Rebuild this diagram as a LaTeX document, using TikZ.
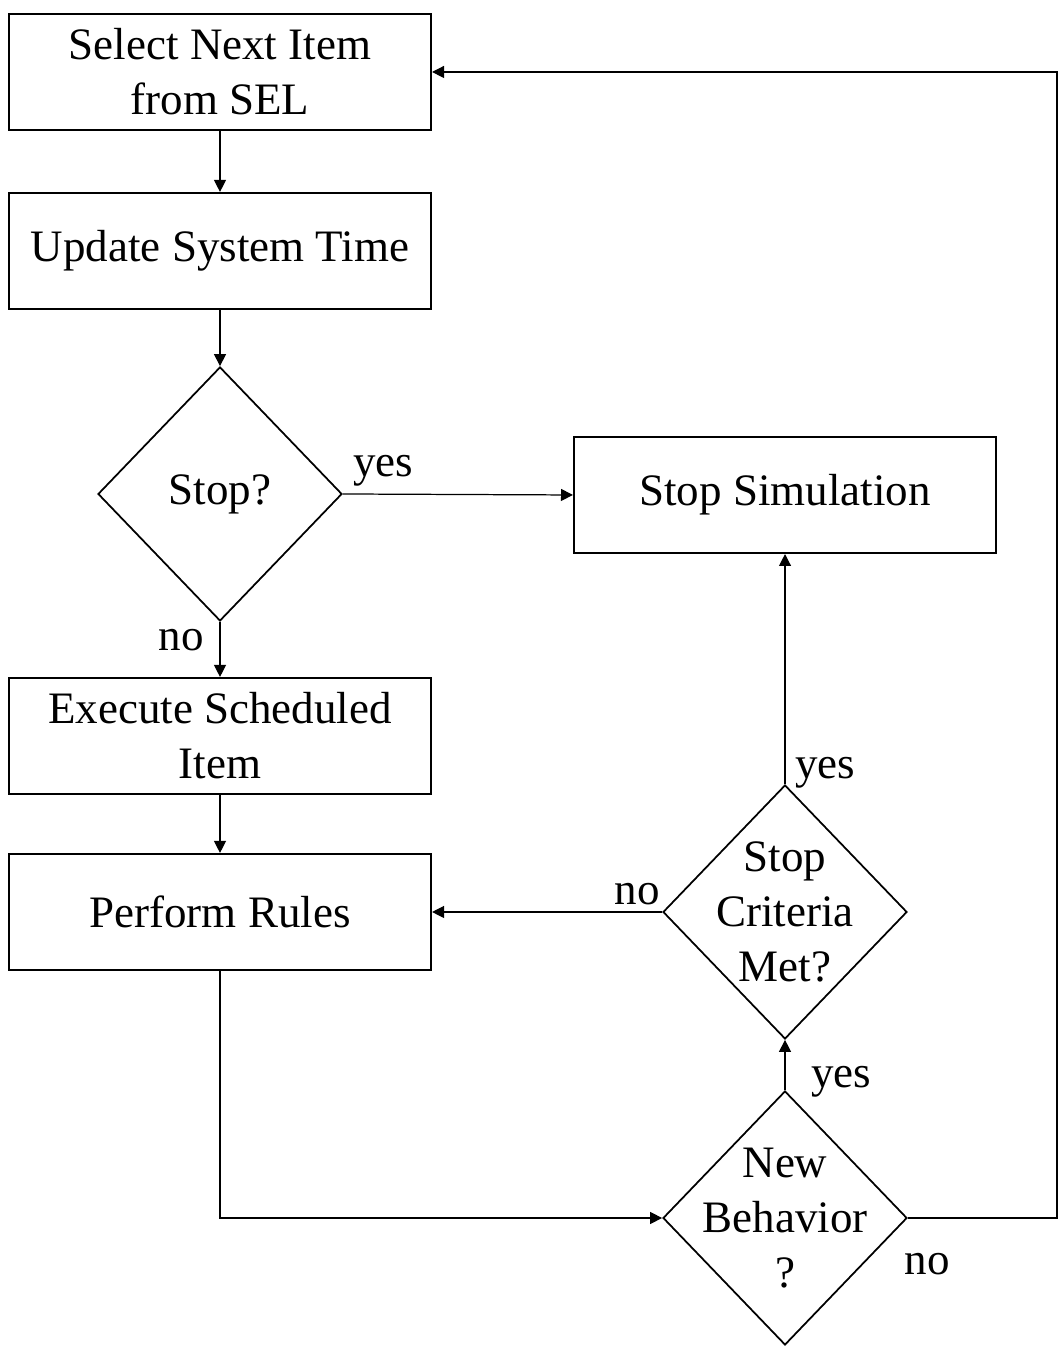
\documentclass[tikz,border=0pt]{standalone}
\usepackage{fontspec}
\setmainfont{Liberation Serif}
\usetikzlibrary{shapes.geometric,arrows.meta}
\begin{document}
\begin{tikzpicture}[
    font=\fontsize{12.8}{15.6}\selectfont,
    box/.style={draw, line width=0.6pt, minimum width=4.22cm, minimum height=1.16cm, align=center, inner sep=0pt},
    decision/.style={draw, diamond, line width=0.5pt, minimum width=2.44cm, minimum height=2.54cm, inner sep=-1cm, align=center},
    arr/.style={line width=0.35pt, -{Triangle[length=3.4pt,width=3.4pt]}}
  ]
  \useasboundingbox (0,0) rectangle (10.58,13.49);
  \node[box] (sel) at (2.20,12.77) {Select Next Item\\from SEL};
  \node[box] (upd) at (2.20,10.98) {Update System Time};
  \node[decision] (stop) at (2.20,8.55) {Stop?};
  \node[box] (halt) at (7.85,8.54) {Stop Simulation};
  \node[box] (exec) at (2.20,6.13) {Execute Scheduled\\Item};
  \node[box] (rules) at (2.20,4.37) {Perform Rules};
  \node[decision] (crit) at (7.85,4.37) {Stop\\Criteria\\Met?};
  \node[decision] (newb) at (7.85,1.31) {New\\Behavior\\?};
  \coordinate (back) at (10.57,1.31);
  % yes / no
  \node (yes1) at (3.83,8.78) {yes};
  \node (no1) at (1.81,7.09) {no};
  \node (yes2) at (8.25,5.76) {yes};
  \node (no2) at (6.37,4.55) {no};
  \node (yes3) at (8.41,2.67) {yes};
  \node (no3) at (9.27,0.85) {no};
  % connectors
  \draw[arr] (sel) -- (upd);
  \draw[arr] (upd) -- (stop);
  \draw[arr] (stop.east) -- (halt.west);
  \draw[arr] (stop) -- (exec);
  \draw[arr] (exec) -- (rules);
  \draw[arr] (crit.west) -- (rules.east);
  \draw[arr] (crit) -- (halt);
  \draw[arr] (newb) -- (crit);
  \draw[arr] (rules) |- (newb);
  \draw[arr] (newb) -- (back) |- (sel);
\end{tikzpicture}
\end{document}
